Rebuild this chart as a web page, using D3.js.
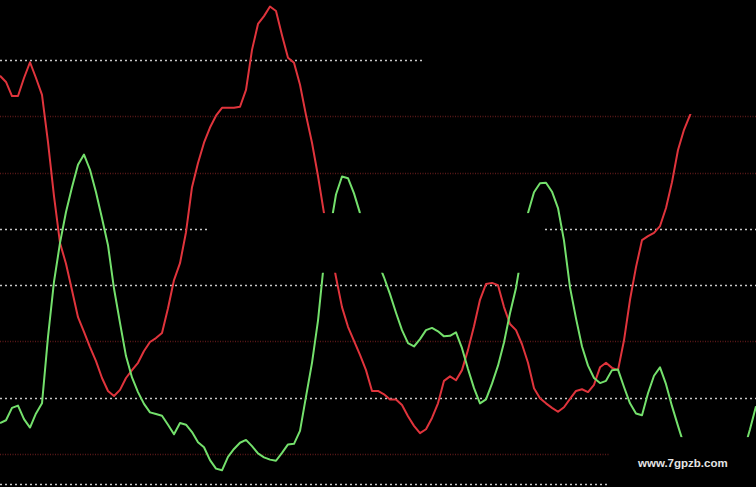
<!DOCTYPE html>
<html>
<head>
<meta charset="utf-8">
<script src="https://cdn.jsdelivr.net/npm/d3@7"></script>
<style>
  html, body { margin: 0; padding: 0; background: #000; }
  svg { display: block; }
</style>
</head>
<body>
<svg id="chart" width="756" height="487"></svg>
<script>
// ---- data ----
const redSeries = [
  87.2, 86.1, 83.6, 83.6, 86.8, 89.6, 86.8, 83.8, 75.4, 65.8,
  57.5, 53.8, 49.1, 44.3, 41.7, 39.0, 36.5, 33.5, 31.2, 30.3,
  31.4, 33.5, 34.9, 36.2, 38.3, 39.9, 40.6, 41.5, 45.9, 50.9,
  53.9, 59.4, 67.4, 71.7, 75.3, 78.0, 80.1, 81.5, 81.5, 81.5,
  81.7, 84.7, 91.8, 96.4, 97.8, 99.5, 98.7, 94.4, 90.4, 89.5,
  85.6, 80.2, 75.3, 69.4, 62.8, 57.1, 51.4, 46.1, 42.6, 40.1,
  37.6, 34.9, 31.2, 31.2, 30.6, 29.7, 29.7, 28.7, 26.7, 25.0,
  23.7, 24.4, 26.4, 29.0, 33.0, 33.8, 33.1, 34.9, 38.5, 42.7,
  47.4, 50.2, 50.4, 50.0, 46.1, 43.1, 42.0, 39.5, 36.2, 31.7,
  29.9, 29.0, 28.2, 27.5, 28.3, 29.8, 31.2, 31.5, 31.0, 32.3,
  35.4, 36.2, 35.3, 34.9, 40.2, 47.4, 53.2, 58.0, 58.7, 59.3,
  60.5, 63.7, 68.3, 74.0, 77.6, 80.2, 82.7, null, null, null,
  null, null, null, null, null, null, null
];
const greenSeries = [
  25.5, 26.0, 28.2, 28.6, 26.2, 24.7, 27.2, 29.0, 40.8, 50.6,
  57.5, 63.0, 67.4, 71.4, 73.2, 70.5, 66.5, 61.9, 57.1, 49.4,
  43.3, 37.4, 33.6, 31.0, 28.9, 27.4, 27.1, 26.8, 25.2, 23.5,
  25.5, 25.2, 23.9, 22.1, 21.2, 18.9, 17.4, 17.1, 19.5, 20.9,
  22.0, 22.5, 21.4, 20.1, 19.4, 19.0, 18.8, 20.2, 21.7, 21.8,
  24.1, 30.2, 36.2, 43.7, 54.1, 59.8, 66.1, 69.3, 69.0, 66.3,
  62.8, 60.0, 57.1, 54.1, 51.4, 48.4, 45.1, 42.0, 39.7, 39.1,
  40.4, 42.0, 42.4, 41.8, 40.9, 41.0, 41.6, 38.8, 35.1, 31.7,
  29.0, 29.7, 32.5, 35.7, 39.8, 45.0, 49.5, 55.9, 62.8, 66.5,
  68.1, 68.2, 66.6, 63.7, 57.9, 49.6, 44.1, 39.1, 35.7, 33.5,
  32.6, 33.0, 34.9, 35.0, 31.9, 29.0, 27.2, 26.9, 30.8, 33.9,
  35.4, 32.4, 28.5, 25.0, 21.6, null, null, null, null, null,
  null, null, null, null, 20.7, 24.4, 28.5
];
const gridLevels = [90, 80, 70, 60, 50, 40, 30, 20, 14.7];
const gridKinds  = ["light", "dark", "dark", "light", "light", "dark", "light", "dark", "light"];
const watermark = "www.7gpzb.com";

// ---- drawing ----
const W = 756, H = 487;
const svg = d3.select("#chart");
svg.append("rect").attr("width", W).attr("height", H).attr("fill", "#000");

const x = d3.scaleLinear().domain([0, redSeries.length - 1]).range([0, W]);
const y = d3.scaleLinear().domain([20, 90]).range([454, 60]);

// gridlines
svg.append("g").selectAll("line")
  .data(gridLevels)
  .join("line")
  .attr("x1", 0).attr("x2", W)
  .attr("y1", d => Math.round(y(d)) + 0.5)
  .attr("y2", d => Math.round(y(d)) + 0.5)
  .attr("stroke", (d, i) => gridKinds[i] === "light" ? "#c8c8c8" : "#5a1818")
  .attr("stroke-width", (d, i) => gridKinds[i] === "light" ? 1.6 : 1.6)
  .attr("stroke-dasharray", (d, i) => gridKinds[i] === "light" ? "2,3" : "1,1.5");

const line = d3.line()
  .defined(d => d != null)
  .x((d, i) => x(i))
  .y(d => y(d));

svg.append("path")
  .datum(redSeries)
  .attr("fill", "none")
  .attr("stroke", "#e0343c")
  .attr("stroke-width", 2)
  .attr("stroke-linejoin", "round")
  .attr("d", line);

svg.append("path")
  .datum(greenSeries)
  .attr("fill", "none")
  .attr("stroke", "#74e06c")
  .attr("stroke-width", 2)
  .attr("stroke-linejoin", "round")
  .attr("d", line);

// blank (erased) areas of the original screenshot, in data units
const blanks = [
  { i0: 35, i1: 90.7, v0: 62.8, v1: 52.2 },
  { i0: 70.8, i1: 126, v0: 101, v1: 80.4 },
  { i0: 101.5, i1: 126, v0: 23.0, v1: 10 }
];
svg.append("g").selectAll("rect")
  .data(blanks)
  .join("rect")
  .attr("x", d => x(d.i0))
  .attr("width", d => x(d.i1) - x(d.i0))
  .attr("y", d => y(d.v0))
  .attr("height", d => y(d.v1) - y(d.v0))
  .attr("fill", "#000");

svg.append("text")
  .attr("x", 638)
  .attr("y", 467)
  .attr("fill", "#e4e4e4")
  .attr("font-family", "Liberation Sans, Arial, sans-serif")
  .attr("font-weight", "bold")
  .attr("font-size", 11.5)
  .text(watermark);
</script>
</body>
</html>
